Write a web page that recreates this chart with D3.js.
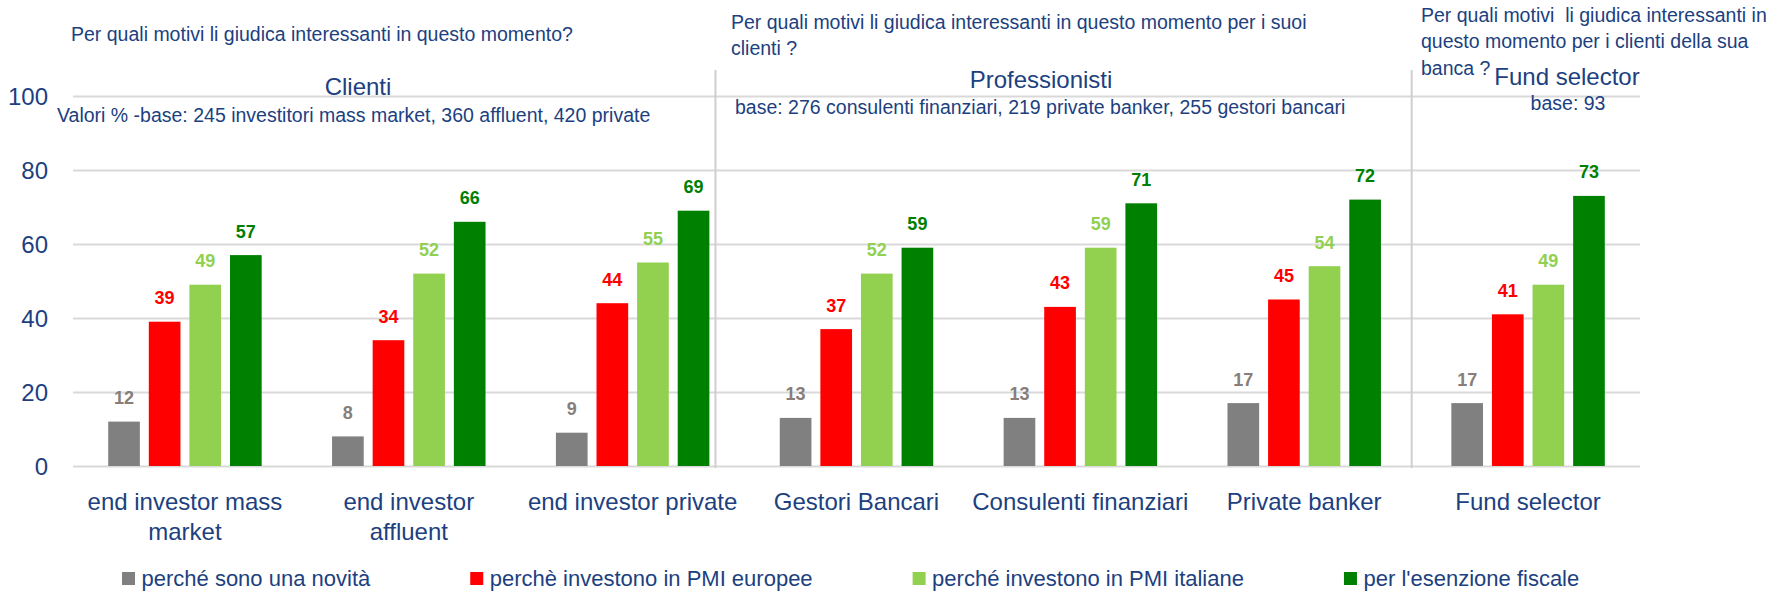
<!DOCTYPE html>
<html>
<head>
<meta charset="utf-8">
<script src="https://cdn.jsdelivr.net/npm/d3@7"></script>
<style>
  body { margin: 0; background: #fff; }
  svg text { font-family: "Liberation Sans", Arial, sans-serif; fill: #203f7f; }
  .grid line { stroke: #d9d9d9; stroke-width: 2; }
  .grid text { font-size: 24px; }
  .sep { stroke: #d0cece; stroke-width: 2; }
</style>
</head>
<body>
<svg width="1773" height="592"></svg>
<script>
const categories = ["end investor mass market", "end investor affluent", "end investor private",
                    "Gestori Bancari", "Consulenti finanziari", "Private banker", "Fund selector"]
const tickLabels = [["end investor mass", "market"], ["end investor", "affluent"], ["end investor private"],
                    ["Gestori Bancari"], ["Consulenti finanziari"], ["Private banker"], ["Fund selector"]]
const seriesNames = ["perché sono una novità", "perchè investono in PMI europee",
                     "perché investono in PMI italiane", "per l'esenzione fiscale"]
const novita   = [12, 8, 9, 13, 13, 17, 17]
const europee  = [39, 34, 44, 37, 43, 45, 41]
const italiane = [49, 52, 55, 52, 59, 54, 49]
const fiscale  = [57, 66, 69, 59, 71, 72, 73]
const yTicks = [0, 20, 40, 60, 80, 100]

const sectionTitles = ["Clienti", "Professionisti", "Fund selector"]
const sectionBases = ["Valori % -base: 245 investitori mass market, 360 affluent, 420 private",
                      "base: 276 consulenti finanziari, 219 private banker, 255 gestori bancari",
                      "base: 93"]
const questions = [["Per quali motivi li giudica interessanti in questo momento?"],
                   ["Per quali motivi li giudica interessanti in questo momento per i suoi", "clienti ?"],
                   ["Per quali motivi  li giudica interessanti in", "questo momento per i clienti della sua", "banca ?"]]
// where the section dividers sit, in category units along the x axis
const dividers = [2.87, 5.98]

const svg = d3.select("svg"),
      margin = {top: 96, right: 133, bottom: 126, left: 73},
      width = svg.attr("width") - margin.left - margin.right,
      height = svg.attr("height") - margin.top - margin.bottom,
      g = svg.append("g").attr("transform", "translate(" + margin.left + "," + margin.top + ")")

const colors = ["#808080", "#ff0000", "#92d050", "#008000"],
      labelColors = ["#877e79", "#ff0000", "#92d050", "#008000"]

const x0 = d3.scaleBand().domain(categories).range([0, width]),
      x1 = d3.scaleBand().domain(seriesNames).range([0, x0.bandwidth()]).paddingInner(0.22).paddingOuter(0.867),
      y = d3.scaleLinear().domain([0, 100]).range([height, 0])

const values = [novita, europee, italiane, fiscale]
const rows = categories.map((c, i) => ({
  cat: c,
  vals: seriesNames.map((s, j) => ({series: s, idx: j, value: values[j][i]}))
}))

// gridlines + y labels
const yAxis = g.append("g")
  .attr("class", "grid")
  .call(d3.axisLeft(y).tickValues(yTicks).tickSize(-width).tickPadding(25))
yAxis.select(".domain").remove()
yAxis.selectAll("text").attr("dy", "0.35em")

// section dividers
g.selectAll(".sep")
  .data(dividers)
  .enter().append("line")
    .attr("class", "sep")
    .attr("x1", d => d * x0.step())
    .attr("x2", d => d * x0.step())
    .attr("y1", y(107))
    .attr("y2", height + 2)

const groups = g.selectAll(".cat")
  .data(rows)
  .enter().append("g")
    .attr("class", "cat")
    .attr("transform", d => "translate(" + x0(d.cat) + ",0)")

groups.selectAll("rect")
  .data(d => d.vals)
  .enter().append("rect")
    .attr("x", d => x1(d.series))
    .attr("y", d => y(d.value))
    .attr("width", x1.bandwidth())
    .attr("height", d => height - y(d.value))
    .attr("fill", d => colors[d.idx])

groups.selectAll(".val")
  .data(d => d.vals)
  .enter().append("text")
    .attr("class", "val")
    .attr("x", d => x1(d.series) + x1.bandwidth() / 2)
    .attr("y", d => y(d.value) - 17.5)
    .attr("text-anchor", "middle")
    .style("font-size", "18px")
    .style("font-weight", "bold")
    .style("fill", d => labelColors[d.idx])
    .text(d => d.value)

// category labels
const catText = g.selectAll(".catlabel")
  .data(categories)
  .enter().append("text")
    .attr("class", "catlabel")
    .attr("text-anchor", "middle")
    .attr("x", d => x0(d) + x0.bandwidth() / 2)
    .attr("y", height + 43.5)
    .style("font-size", "24px")
catText.selectAll("tspan")
  .data((d, i) => tickLabels[i])
  .enter().append("tspan")
    .attr("x", function () { return d3.select(this.parentNode).attr("x") })
    .attr("dy", (d, i) => i ? 30 : 0)
    .text(d => d)

// legend, items spaced evenly by text length
const legend = svg.append("g").attr("transform", "translate(122,572)")
let lx = 0
seriesNames.forEach((s, i) => {
  const item = legend.append("g").attr("transform", "translate(" + lx + ",0)")
  item.append("rect").attr("width", 13).attr("height", 13).attr("fill", colors[i])
  const t = item.append("text").attr("x", 19.5).attr("y", 13.5).style("font-size", "22px").text(s)
  lx += 19.5 + t.node().getComputedTextLength() + 100
})

// section titles, bases and questions
const titlePos = [[358, 94.5], [1041, 87.5], [1567, 85]],
      basePos = [[57, 122, "start"], [735, 114, "start"], [1568, 110, "middle"]],
      questionPos = [[71, 41], [731, 28.5], [1421, 21.5]]

svg.selectAll(".title")
  .data(sectionTitles)
  .enter().append("text")
    .attr("class", "title")
    .attr("x", (d, i) => titlePos[i][0])
    .attr("y", (d, i) => titlePos[i][1])
    .attr("text-anchor", "middle")
    .style("font-size", "24px")
    .text(d => d)

svg.selectAll(".base")
  .data(sectionBases)
  .enter().append("text")
    .attr("class", "base")
    .attr("x", (d, i) => basePos[i][0])
    .attr("y", (d, i) => basePos[i][1])
    .attr("text-anchor", (d, i) => basePos[i][2])
    .style("font-size", "19.5px")
    .text(d => d)

questions.forEach((q, i) => {
  svg.append("text")
    .attr("x", questionPos[i][0])
    .attr("y", questionPos[i][1])
    .style("font-size", "19.5px")
    .style("white-space", "pre")
    .selectAll("tspan")
    .data(q)
    .enter().append("tspan")
      .attr("x", questionPos[i][0])
      .attr("dy", (d, j) => j ? 26.5 : 0)
      .text(d => d)
})
</script>
</body>
</html>
